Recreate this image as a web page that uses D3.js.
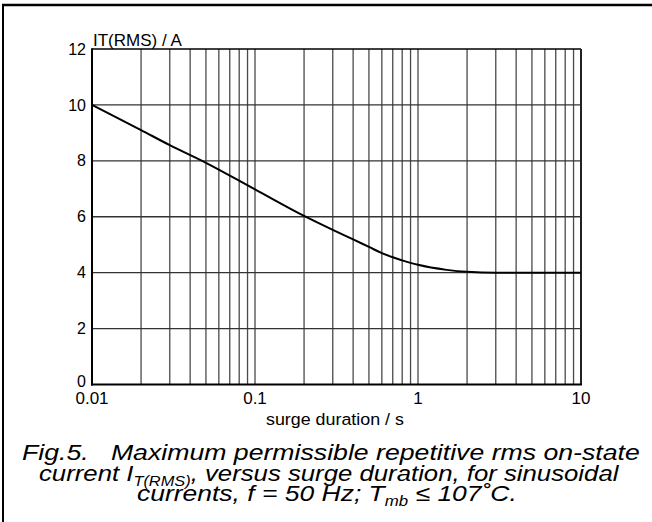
<!DOCTYPE html>
<html>
<head>
<meta charset="utf-8">
<script src="https://cdn.jsdelivr.net/npm/d3@7/dist/d3.min.js"></script>
<style>
  html, body { margin: 0; padding: 0; background: #fff; }
  svg { display: block; }
  text { font-family: "Liberation Sans", Arial, Helvetica, sans-serif; fill: #000; }
</style>
</head>
<body>
<svg id="chart" width="652" height="522"></svg>
<script>
// ---- data ----
const durations = [0.01, 0.02, 0.03, 0.05, 0.1, 0.2, 0.3, 0.4, 0.5, 0.6, 0.7, 0.8, 0.9, 1, 1.5, 2, 3, 5, 10];
const currents  = [10, 9.1, 8.56, 7.93, 6.98, 6.03, 5.53, 5.19, 4.92, 4.7, 4.55, 4.44, 4.35, 4.28, 4.1, 4.03, 4.0, 4.0, 4.0];
const xTickValues = [0.01, 0.1, 1, 10];
const xTickLabels = ["0.01", "0.1", "1", "10"];
const yTickValues = [0, 2, 4, 6, 8, 10, 12];
const yTickLabels = ["0", "2", "4", "6", "8", "10", "12"];

const svg = d3.select("#chart");

const x = d3.scaleLog().domain([0.01, 10]).range([92, 581]);
const y = d3.scaleLinear().domain([0, 12]).range([384.5, 49]);

// outer frame (top + left)
svg.append("line").attr("x1", 2).attr("x2", 652).attr("y1", 5).attr("y2", 5)
  .attr("stroke", "#000").attr("stroke-width", 2.5);
svg.append("line").attr("x1", 3).attr("x2", 3).attr("y1", 4).attr("y2", 522)
  .attr("stroke", "#000").attr("stroke-width", 2);

// vertical grid lines
const vGrid = [];
[0.01, 0.1, 1].forEach(d => { for (let k = 1; k <= 9; k++) vGrid.push(d * k); });
svg.append("g").selectAll("line").data(vGrid.filter(v => v > 0.0101)).join("line")
  .attr("x1", d => x(d)).attr("x2", d => x(d))
  .attr("y1", y(12)).attr("y2", y(0))
  .attr("stroke", "#4a4a4a").attr("stroke-width", 1.3);

// horizontal grid lines
svg.append("g").selectAll("line").data([2, 4, 6, 8, 10]).join("line")
  .attr("x1", x(0.01)).attr("x2", x(10))
  .attr("y1", d => y(d)).attr("y2", d => y(d))
  .attr("stroke", "#333").attr("stroke-width", 1.3);

// plot frame
svg.append("line").attr("x1", x(0.01)).attr("x2", x(10)).attr("y1", y(12)).attr("y2", y(12))
  .attr("stroke", "#000").attr("stroke-width", 1.5);
svg.append("line").attr("x1", x(10)).attr("x2", x(10)).attr("y1", y(12)).attr("y2", y(0))
  .attr("stroke", "#222").attr("stroke-width", 2);
svg.append("line").attr("x1", x(0.01)).attr("x2", x(0.01)).attr("y1", y(12) - 0.75).attr("y2", y(0) + 1)
  .attr("stroke", "#000").attr("stroke-width", 2);
svg.append("line").attr("x1", x(0.01) - 1).attr("x2", x(10) + 1).attr("y1", y(0)).attr("y2", y(0))
  .attr("stroke", "#000").attr("stroke-width", 2);

// curve
const line = d3.line().x((d, i) => x(durations[i])).y(d => y(d)).curve(d3.curveMonotoneX);
svg.append("path").datum(currents).attr("d", line)
  .attr("fill", "none").attr("stroke", "#000").attr("stroke-width", 2);

// y tick labels
svg.append("g").selectAll("text").data(yTickValues).join("text")
  .attr("x", 86).attr("y", d => y(d) + (d === 0 ? -3 : 0)).attr("dy", "0.35em")
  .attr("text-anchor", "end").attr("font-size", 16)
  .text((d, i) => yTickLabels[i]);

// x tick labels
svg.append("g").selectAll("text").data(xTickValues).join("text")
  .attr("x", d => x(d)).attr("y", 404)
  .attr("text-anchor", "middle").attr("font-size", 17)
  .text((d, i) => xTickLabels[i]);

// stretch a text horizontally to span [x0, x1]
function fit(sel, x0, x1, base) {
  const w = sel.node().getBBox().width;
  sel.attr("x", 0).attr("y", 0)
     .attr("transform", `translate(${x0},${base}) scale(${(x1 - x0) / w},1)`);
}

// axis titles
svg.append("text").attr("x", 93).attr("y", 46).attr("font-size", 17).text("IT(RMS) / A");
const xt = svg.append("text").attr("font-size", 17).text("surge duration / s");
fit(xt, 266, 404, 425);

// caption
const cap = svg.append("g").attr("font-style", "italic").attr("font-size", 22);
const l1 = cap.append("text").attr("xml:space", "preserve")
  .text("Fig.5.   Maximum permissible repetitive rms on-state");
fit(l1, 22, 640, 460);
const l2 = cap.append("text");
l2.append("tspan").text("current I");
l2.append("tspan").attr("font-size", 14).attr("dy", 5).text("T(RMS)");
l2.append("tspan").attr("dy", -5).text(", versus surge duration, for sinusoidal");
fit(l2, 39, 620, 481);
const l3 = cap.append("text");
l3.append("tspan").text("currents, f = 50 Hz; T");
l3.append("tspan").attr("font-size", 14).attr("dy", 5).text("mb");
l3.append("tspan").attr("dy", -5).text(" \u2264 107\u02DAC.");
fit(l3, 137, 517, 501);
</script>
</body>
</html>
